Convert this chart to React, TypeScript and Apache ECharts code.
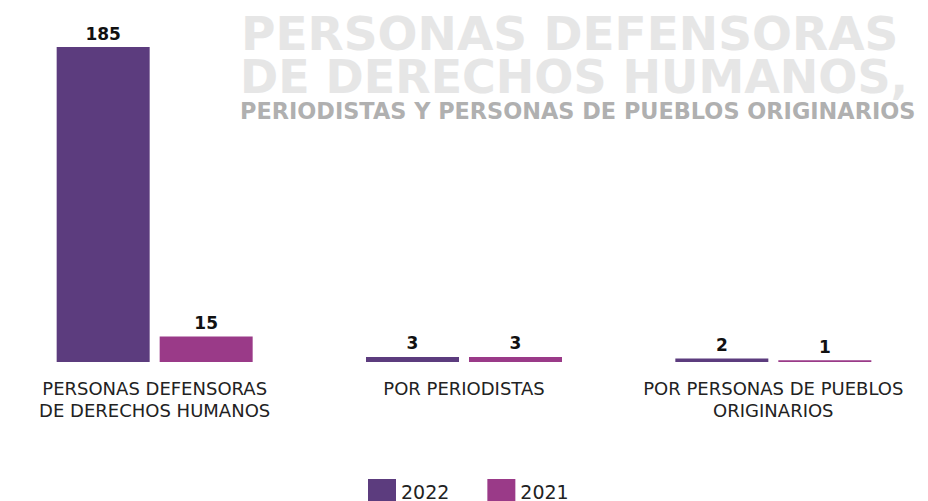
import React, { useEffect, useRef } from "react";
import * as echarts from "echarts";

const categories = [
  "PERSONAS DEFENSORAS\nDE DERECHOS HUMANOS",
  "POR PERIODISTAS",
  "POR PERSONAS DE PUEBLOS\nORIGINARIOS",
];
const seriesNames = ["2022", "2021"];
const values2022 = [185, 3, 2];
const values2021 = [15, 3, 1];
const titleLines = ["PERSONAS DEFENSORAS", "DE DERECHOS HUMANOS,"];
const subtitle = "PERIODISTAS Y PERSONAS DE PUEBLOS ORIGINARIOS";

const colors = ["#5c3c7e", "#9a3a88"];

export default function App() {
  const ref = useRef<HTMLDivElement>(null);
  useEffect(() => {
    if (!ref.current) return;
    const chart = echarts.init(ref.current, null, { renderer: "svg" });
    const labelStyle = {
      show: true,
      position: "top",
      distance: 5,
      fontSize: 17,
      fontWeight: "bold",
      color: "#111",
      fontFamily: "DejaVu Sans",
    };
    chart.setOption({
      animation: false,
      backgroundColor: "#ffffff",
      graphic: [
        {
          type: "text",
          left: 241,
          top: 10,
          z: 0,
          style: {
            text: titleLines[0],
            fontSize: 47,
            lineHeight: 40,
            fontWeight: "bold",
            fontFamily: "DejaVu Sans",
            fill: "#e6e6e6",
          },
        },
        {
          type: "text",
          left: 240,
          top: 54,
          z: 0,
          style: {
            text: titleLines[1],
            fontSize: 46,
            lineHeight: 40,
            fontWeight: "bold",
            fontFamily: "DejaVu Sans",
            fill: "#e6e6e6",
          },
        },
        {
          type: "text",
          left: 240,
          top: 99,
          z: 0,
          style: {
            text: subtitle,
            fontSize: 22.4,
            lineHeight: 24,
            fontWeight: "bold",
            fontFamily: "DejaVu Sans",
            fill: "#b0b0b0",
          },
        },
      ],
      legend: {
        data: seriesNames,
        left: 363,
        top: 474,
        itemWidth: 28,
        itemHeight: 25,
        itemGap: 38,
        icon: "rect",
        textStyle: {
          fontSize: 19,
          lineHeight: 20,
          color: "#222",
          fontFamily: "DejaVu Sans",
        },
      },
      grid: { left: -2, right: 0, top: 47, bottom: 139, containLabel: false },
      xAxis: {
        type: "category",
        data: categories,
        axisLine: { show: false },
        axisTick: { show: false },
        axisLabel: {
          interval: 0,
          margin: 15,
          fontSize: 18,
          lineHeight: 22,
          color: "#222",
          fontFamily: "DejaVu Sans",
        },
      },
      yAxis: {
        type: "value",
        min: 0,
        max: 185,
        show: false,
        splitLine: { show: false },
      },
      series: [
        {
          name: seriesNames[0],
          type: "bar",
          data: values2022,
          barWidth: 93,
          barGap: "10.75%",
          itemStyle: { color: colors[0] },
          label: labelStyle,
        },
        {
          name: seriesNames[1],
          type: "bar",
          data: values2021,
          barWidth: 93,
          barGap: "10.75%",
          itemStyle: { color: colors[1] },
          label: labelStyle,
        },
      ],
    });
    return () => chart.dispose();
  }, []);
  return <div ref={ref} style={{ width: 928, height: 501, position: "absolute", left: 0, top: 0 }} />;
}
